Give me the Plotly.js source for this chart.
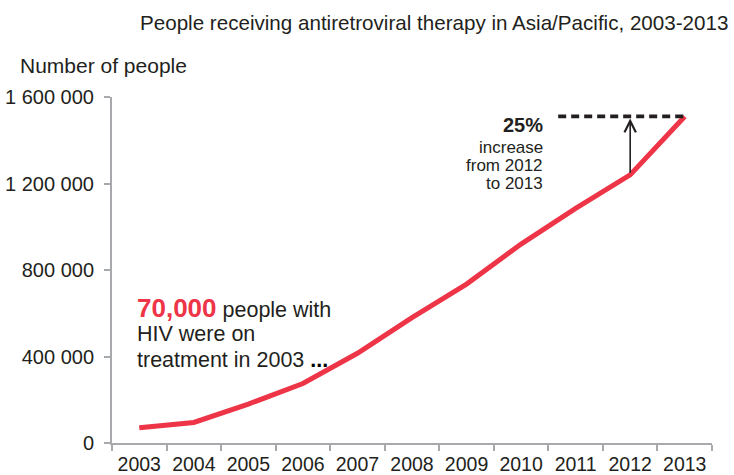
<!DOCTYPE html>
<html>
<head>
<meta charset="utf-8">
<script src="https://cdn.plot.ly/plotly-3.0.1.min.js"></script>
<style>html,body{margin:0;padding:0;background:#fff;}#chart{width:734px;height:475px;}</style>
</head>
<body>
<div id="chart"></div>
<script>
const years = ['2003','2004','2005','2006','2007','2008','2009','2010','2011','2012','2013'];
const peopleOnART = [70000, 95000, 180000, 275000, 415000, 580000, 735000, 920000, 1085000, 1240000, 1510000];
const yTickVals = [0, 400000, 800000, 1200000, 1600000];
const yTickText = ['0', '400 000', '800 000', '1 200 000', '1 600 000'];

const FONT = 'Liberation Sans, Arial, Helvetica, sans-serif';
const TXT = '#231f20';
const AX = '#a7a9ac';
const RED = '#ee3447';

const trace = {
  x: years,
  y: peopleOnART,
  type: 'scatter',
  mode: 'lines',
  line: {color: RED, width: 5},
  hoverinfo: 'skip'
};

const last = peopleOnART.length - 1;

const layout = {
  width: 734,
  height: 475,
  margin: {l: 112, r: 22, t: 97, b: 32},
  paper_bgcolor: '#fff',
  plot_bgcolor: '#fff',
  showlegend: false,
  font: {family: FONT, color: TXT},
  title: {
    text: 'People receiving antiretroviral therapy in Asia/Pacific, 2003-2013',
    font: {family: FONT, size: 20.6, color: TXT},
    xref: 'container', yref: 'container',
    x: 140/734, xanchor: 'left',
    y: 1 - 23/475, yanchor: 'middle'
  },
  xaxis: {
    type: 'category',
    categoryorder: 'array',
    categoryarray: years,
    range: [-0.5, years.length - 0.5],
    showline: true, linecolor: AX, linewidth: 2,
    ticks: 'outside', tickson: 'boundaries', ticklen: 6, tickwidth: 2, tickcolor: AX,
    ticklabelstandoff: 3,
    tickfont: {family: FONT, size: 19.5, color: TXT},
    showgrid: false, zeroline: false, fixedrange: true
  },
  yaxis: {
    range: [0, 1600000],
    tickvals: yTickVals,
    ticktext: yTickText,
    showline: true, linecolor: AX, linewidth: 2,
    ticks: 'outside', ticklen: 6, tickwidth: 2, tickcolor: AX,
    ticklabelstandoff: 6,
    tickfont: {family: FONT, size: 20, color: TXT},
    showgrid: false, zeroline: false, fixedrange: true
  },
  shapes: [
    {
      type: 'line', xref: 'x', yref: 'y',
      x0: 7.68, x1: last,
      y0: peopleOnART[last], y1: peopleOnART[last],
      line: {color: TXT, width: 3.8, dash: '8px,5px'}
    }
  ],
  annotations: [
    {
      xref: 'paper', yref: 'paper', x: (18-112)/600, y: (443-66)/346,
      xanchor: 'left', yanchor: 'middle', showarrow: false,
      text: 'Number of people', font: {family: FONT, size: 21, color: TXT}
    },
    {
      xref: 'paper', yref: 'paper', x: (135-112)/600, y: (443-308)/346,
      xanchor: 'left', yanchor: 'middle', showarrow: false,
      text: '<b><span style="color:' + RED + ';font-size:26px">70,000</span></b> people with',
      font: {family: FONT, size: 21.5, color: TXT}
    },
    {
      xref: 'paper', yref: 'paper', x: (135-112)/600, y: (443-334)/346,
      xanchor: 'left', yanchor: 'middle', showarrow: false,
      text: 'HIV were on', font: {family: FONT, size: 21.5, color: TXT}
    },
    {
      xref: 'paper', yref: 'paper', x: (135-112)/600, y: (443-360)/346,
      xanchor: 'left', yanchor: 'middle', showarrow: false,
      text: 'treatment in 2003 <b><span style="color:#000000">...</span></b>', font: {family: FONT, size: 21.5, color: TXT}
    },
    {
      xref: 'paper', yref: 'paper', x: (545-112)/600, y: (443-125)/346,
      xanchor: 'right', yanchor: 'middle', showarrow: false,
      text: '<b>25%</b>', font: {family: FONT, size: 20, color: TXT}
    },
    {
      xref: 'paper', yref: 'paper', x: (545-112)/600, y: (443-147)/346,
      xanchor: 'right', yanchor: 'middle', showarrow: false,
      text: 'increase', font: {family: FONT, size: 17, color: TXT}
    },
    {
      xref: 'paper', yref: 'paper', x: (545-112)/600, y: (443-165)/346,
      xanchor: 'right', yanchor: 'middle', showarrow: false,
      text: 'from 2012', font: {family: FONT, size: 17, color: TXT}
    },
    {
      xref: 'paper', yref: 'paper', x: (545-112)/600, y: (443-183)/346,
      xanchor: 'right', yanchor: 'middle', showarrow: false,
      text: 'to 2013', font: {family: FONT, size: 17, color: TXT}
    },
    {
      xref: 'x', yref: 'y', x: last - 1, y: peopleOnART[last],
      axref: 'x', ayref: 'y', ax: last - 1, ay: peopleOnART[last - 1],
      text: ' ', showarrow: true, arrowhead: 5, arrowsize: 1.4, arrowwidth: 1.6,
      arrowcolor: TXT, standoff: 2, startstandoff: 0, font: {size: 1}
    }
  ]
};

Plotly.newPlot('chart', [trace], layout, {displayModeBar: false, staticPlot: true});
</script>
</body>
</html>
